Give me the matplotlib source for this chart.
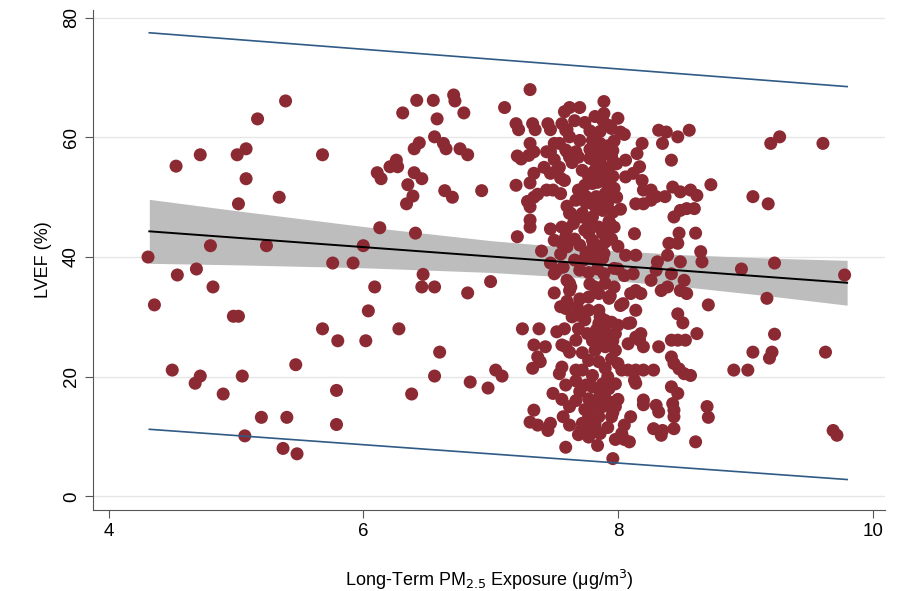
import matplotlib
matplotlib.use("Agg")
import matplotlib.pyplot as plt

plt.rcParams['font.family'] = ['Liberation Sans', 'DejaVu Sans']

# --- scatter data (PM2.5, LVEF) ---
# sparse part, x < 7.15
pm_low = [5.39, 5.17, 4.53, 4.72, 5.01, 5.08, 5.08, 5.34, 5.02, 4.80, 5.24, 4.31,
          4.54, 4.69, 4.82, 4.36, 4.98, 5.02, 4.50, 4.72, 4.68, 5.05, 4.90, 5.47,
          5.20, 5.40, 5.07, 5.37, 5.48,
          6.71, 6.72, 6.42, 6.55, 6.31, 6.79, 6.58, 7.11, 6.56, 6.63, 6.65, 6.44,
          6.40, 6.76, 6.82, 5.68, 6.26, 6.21, 6.27, 6.11, 6.14, 6.40, 6.46, 6.35,
          6.64, 6.70, 6.93, 6.39, 6.34, 6.13, 6.41, 6.00, 5.76, 5.92,
          6.47, 6.46, 6.56, 6.09, 6.82, 7.00, 6.04, 5.68, 5.80, 6.02, 6.28, 6.60,
          6.56, 6.84, 6.98, 7.04, 7.09, 5.79, 6.38, 5.79]
ef_low = [66.1, 63.1, 55.2, 57.1, 57.1, 58.1, 53.1, 50.0, 48.9, 41.9, 41.9, 40.0,
          37.0, 38.0, 35.0, 32.0, 30.1, 30.1, 21.1, 20.1, 18.9, 20.1, 17.1, 22.0,
          13.2, 13.2, 10.1, 8.0, 7.1,
          67.1, 66.1, 66.2, 66.2, 64.1, 64.1, 63.1, 65.0, 60.1, 59.0, 58.1, 59.1,
          58.1, 58.1, 57.1, 57.1, 56.2, 55.1, 55.1, 54.1, 53.1, 54.1, 53.1, 52.1,
          51.1, 50.0, 51.1, 50.2, 48.9, 44.9, 44.0, 41.9, 39.0, 39.0,
          37.1, 35.0, 35.0, 35.0, 34.0, 35.9, 31.0, 28.0, 26.0, 26.0, 28.0, 24.1,
          20.1, 19.1, 18.1, 21.1, 20.1, 17.7, 17.1, 12.0]

# dense cluster, 7.15 < x < 8.7
pm_mid = [7.31, 7.58, 7.62, 7.70, 7.89, 7.89,
          7.20, 7.33, 7.45, 7.56, 7.22, 7.35, 7.47, 7.60, 7.78,
          7.31, 7.34, 7.44, 7.21, 7.24, 7.30, 7.50, 7.60, 7.67, 7.64, 7.50, 7.47,
          7.42, 7.34, 7.31, 7.37, 7.20, 7.47, 7.52, 7.58, 7.44, 7.49, 7.55,
          7.34, 7.31, 7.29, 7.63, 7.71, 7.65, 7.31, 7.31,
          7.47, 7.60, 7.50, 7.58, 7.60, 7.21, 7.40, 7.47, 7.52, 7.50, 7.60, 7.63,
          8.00, 7.88, 7.93, 8.02, 7.59, 7.62,
          7.54, 7.59, 7.69, 7.62,
          7.80, 7.86, 7.92, 7.97, 7.83, 7.90, 7.95, 7.78, 7.86, 7.93, 7.99, 7.81,
          7.88, 7.96, 7.84,
          8.19, 8.15, 8.06, 8.17, 8.12, 8.06, 8.19, 7.54, 7.55,
          7.77, 7.80, 7.69, 7.75, 7.67, 7.83, 7.90,
          8.14, 7.62, 7.72, 7.80, 7.88,
          7.77, 7.85, 7.97, 7.56, 7.59, 7.56, 7.77, 7.80, 8.13,
          7.75, 7.85, 7.89, 7.80, 8.06, 8.14,
          7.57, 7.70, 7.77, 7.84, 7.89, 8.00, 8.05, 8.12,
          7.82, 7.88, 7.93, 7.75, 7.85, 7.82, 7.92, 7.78, 7.86, 7.95, 7.72, 7.70,
          7.80, 7.90, 7.84, 7.92, 7.97, 8.02, 7.95, 8.00,
          7.62, 7.62, 7.82, 7.90, 7.97, 8.14,
          7.77, 7.85, 7.93, 8.04,
          7.59, 7.68, 7.69, 7.77, 7.85, 8.14,
          7.85, 7.90, 7.95, 8.00, 7.83, 7.90, 7.98, 8.08, 7.69,
          7.67, 7.59, 7.62,
          7.87, 7.90, 7.82, 7.98, 8.08, 8.14,
          7.77, 7.85, 7.95, 8.00, 8.03, 8.08, 7.90, 7.72, 7.67, 7.56, 7.54, 8.14,
          7.59, 7.67, 7.75, 7.80, 7.88, 7.93, 7.98, 8.14,
          7.56, 7.67, 7.77, 7.82, 7.90, 7.95, 8.00,
          7.62, 7.80, 7.88, 7.98, 8.20,
          7.57, 7.77, 7.85, 7.95, 8.10,
          7.62, 7.72, 7.77, 8.05,
          7.69, 7.77, 8.03, 8.05, 7.59, 7.96,
          7.25, 7.38, 7.34, 7.43, 7.56, 7.37, 7.39, 7.33, 7.49,
          7.34, 7.31, 7.37, 7.47, 7.45, 7.71, 7.79,
          7.55, 7.60, 7.76,
          8.05, 8.32, 8.38, 8.35, 8.47, 8.56, 8.42,
          8.43, 8.49, 8.57, 8.62, 8.20, 8.26, 8.30, 8.37, 8.20, 8.26,
          8.44, 8.49, 8.54, 8.60, 8.48, 8.61, 8.40, 8.47, 8.65, 8.39, 8.49, 8.66,
          8.31, 8.30, 7.97, 8.26, 8.42, 8.52,
          8.10, 8.18, 8.34, 8.39, 8.49, 8.54,
          8.02, 8.47, 8.51, 8.10, 8.62, 8.18, 8.17, 8.20, 8.32, 8.42, 8.47, 8.53,
          8.42, 8.44, 8.48, 8.52, 8.57, 8.20, 8.28, 8.13, 8.42, 8.47, 8.20,
          8.30, 8.32, 8.43, 8.44, 8.44, 8.28, 8.35, 8.34, 8.44, 8.09, 8.61,
          # extra points filling the solid core of the cloud
          7.74, 7.70, 7.73, 7.92, 7.96, 7.88, 7.78, 7.94, 7.70, 7.86, 7.74, 7.80,
          7.96, 7.72, 7.92, 7.80, 7.70, 7.86, 7.96, 7.74, 7.82, 7.92, 7.86, 7.98,
          7.84, 7.74, 7.82, 7.66, 7.96, 7.74, 7.99, 7.94, 7.60, 7.66, 7.55, 7.66,
          7.64, 7.58, 7.52, 7.50]
ef_mid = [68.0, 64.3, 65.0, 65.0, 66.0, 64.0,
          62.3, 62.3, 62.3, 62.3, 61.3, 61.3, 61.3, 61.3, 61.1,
          59.0, 57.6, 57.6, 56.9, 56.4, 57.0, 59.0, 57.6, 57.6, 55.8, 56.3, 57.6,
          55.0, 54.0, 52.4, 50.5, 52.0, 54.0, 54.5, 52.8, 51.2, 51.2, 50.6,
          50.0, 48.4, 49.3, 47.3, 46.7, 45.6, 46.2, 45.0,
          44.7, 44.7, 42.8, 42.8, 41.7, 43.4, 41.0, 39.0, 37.8, 37.2, 36.1, 35.0,
          63.2, 62.9, 62.0, 60.9, 61.2, 60.1,
          59.0, 57.9, 56.7, 56.7,
          59.5, 59.0, 58.6, 59.4, 57.8, 57.3, 56.8, 56.5, 55.8, 55.0, 55.6, 54.3,
          53.8, 53.5, 52.5,
          59.0, 57.3, 56.2, 55.1, 54.0, 53.4, 52.8, 55.0, 53.2,
          53.4, 52.3, 51.2, 50.1, 49.5, 50.1, 50.6,
          48.9, 47.3, 47.3, 46.7, 47.8,
          45.6, 45.0, 45.0, 45.0, 43.4, 42.3, 43.9, 42.8, 43.9,
          40.6, 41.7, 40.6, 40.0, 40.3, 40.3,
          38.3, 37.8, 37.4, 38.0, 37.2, 38.0, 36.9, 37.2,
          48.5, 44.0, 46.0, 49.0, 49.5, 56.0, 52.0, 58.0, 61.0, 61.5, 54.5, 59.5,
          41.5, 42.5, 39.3, 49.0, 51.5, 48.0, 43.0, 41.8,
          35.6, 34.4, 35.0, 35.6, 35.0, 34.4,
          33.3, 33.9, 33.1, 32.2,
          31.4, 31.7, 30.3, 31.1, 31.1, 31.1,
          28.9, 29.4, 29.1, 28.6, 27.8, 27.5, 27.2, 28.9, 28.0,
          26.1, 25.0, 24.1,
          26.1, 25.0, 24.4, 24.4, 25.5, 26.6,
          22.7, 22.5, 23.0, 22.2, 21.1, 21.1, 21.4, 21.1, 21.1, 21.6, 20.5, 21.1,
          18.6, 19.3, 18.6, 18.3, 18.8, 18.0, 18.8, 18.9,
          16.2, 16.0, 16.3, 15.8, 16.4, 15.7, 16.2,
          15.0, 15.0, 15.0, 15.0, 15.3,
          13.3, 13.3, 13.3, 13.3, 13.3,
          11.9, 12.2, 11.9, 11.9,
          10.3, 9.9, 10.5, 9.5, 8.2, 6.3,
          28.0, 28.0, 25.3, 25.0, 25.3, 23.3, 22.5, 21.4, 17.2,
          14.4, 12.4, 11.9, 12.2, 11.0, 11.0, 10.5,
          31.7, 32.6, 27.2,
          60.5, 61.2, 60.9, 59.0, 60.1, 61.2, 56.2,
          51.7, 50.9, 51.2, 50.3, 51.2, 51.2, 50.1, 50.1, 48.9, 49.5,
          46.7, 47.8, 48.1, 48.1, 44.0, 44.0, 42.3, 42.3, 40.9, 40.3, 39.2, 39.2,
          39.2, 37.8, 38.1, 36.1, 37.2, 36.1,
          33.9, 33.9, 34.4, 35.0, 34.4, 33.9,
          31.9, 30.5, 29.0, 29.0, 27.2, 27.2, 26.1, 25.0, 25.0, 26.1, 26.1, 26.1,
          23.3, 22.2, 21.3, 20.5, 20.2, 21.1, 21.1, 19.4, 18.3, 17.2, 16.1,
          15.2, 14.1, 15.5, 14.4, 13.3, 11.3, 11.0, 10.2, 11.3, 9.1, 9.1,
          44.5, 42.0, 39.5, 44.8, 47.5, 39.8, 35.5, 33.5, 33.0, 30.0, 29.5, 26.0,
          26.0, 24.0, 20.0, 20.2, 17.5, 17.0, 14.0, 14.5, 12.0, 11.5, 10.5, 9.5,
          8.5, 62.5, 63.5, 62.8, 57.8, 52.0, 50.0, 45.5, 48.5, 43.0, 40.5, 39.5,
          30.0, 28.0, 27.5, 34.0]

# sparse part, x > 8.7
pm_high = [9.27, 9.20, 9.61, 8.73, 9.06, 9.18, 8.97, 9.23, 9.78, 9.17, 8.71, 9.23,
           9.06, 9.21, 9.19, 9.63, 8.91, 9.02, 8.70, 8.71, 9.69, 9.72]
ef_high = [60.1, 59.0, 59.0, 52.1, 50.1, 48.9, 38.0, 39.0, 37.0, 33.1, 32.0, 27.1,
           24.1, 24.1, 23.1, 24.1, 21.1, 21.1, 15.0, 13.2, 11.0, 10.2]

# fitted line, prediction interval and CI band (read at the ends / a few x)
line_x = [4.32, 9.8]
fit_y = [44.3, 35.7]
pi_upper = [77.5, 68.5]
pi_lower = [11.2, 2.8]
band_x = [4.32, 5.0, 6.0, 7.0, 7.75, 8.5, 9.2, 9.8]
band_hi = [49.65, 47.76, 45.11, 42.75, 41.37, 40.40, 39.81, 39.45]
band_lo = [38.95, 38.70, 38.21, 37.43, 36.47, 35.08, 33.47, 31.95]

pm = pm_low + pm_mid + pm_high
ef = ef_low + ef_mid + ef_high

fig = plt.figure(figsize=(8.97, 5.91), dpi=100)
ax = fig.add_axes([0.104, 0.137, 0.883, 0.846])

ax.fill_between(band_x, band_lo, band_hi, color="#bdbdbd", lw=0, zorder=1)
ax.scatter(pm, ef, s=88, color="#8c2a33", edgecolors="none", zorder=2)
ax.plot(line_x, fit_y, color="black", lw=1.4, zorder=3)
ax.plot(line_x, pi_upper, color="#2f5b85", lw=1.2, zorder=3)
ax.plot(line_x, pi_lower, color="#2f5b85", lw=1.2, zorder=3)

ax.set_xlim(3.88, 10.1)
ax.set_ylim(-2.3, 81.3)
ax.set_xticks([4, 6, 8, 10])
ax.set_yticks([0, 20, 40, 60, 80])
ax.yaxis.grid(True, color="#e6e6e6", lw=1.0)
ax.set_axisbelow(True)
for s in ["top", "right"]:
    ax.spines[s].set_visible(False)
for s in ["left", "bottom"]:
    ax.spines[s].set_color("#555555")
ax.tick_params(direction="out", length=6, color="#555555", labelsize=13.5)
plt.setp(ax.get_yticklabels(), rotation=90, va="center")
ax.set_ylabel("LVEF (%)", fontsize=13, labelpad=8)
ax.set_xlabel(r"Long-Term PM$_{2.5}$ Exposure ($\mathregular{\mu}$g/m$^3$)", fontsize=13, labelpad=20)

fig.savefig("out.png", dpi=100)
